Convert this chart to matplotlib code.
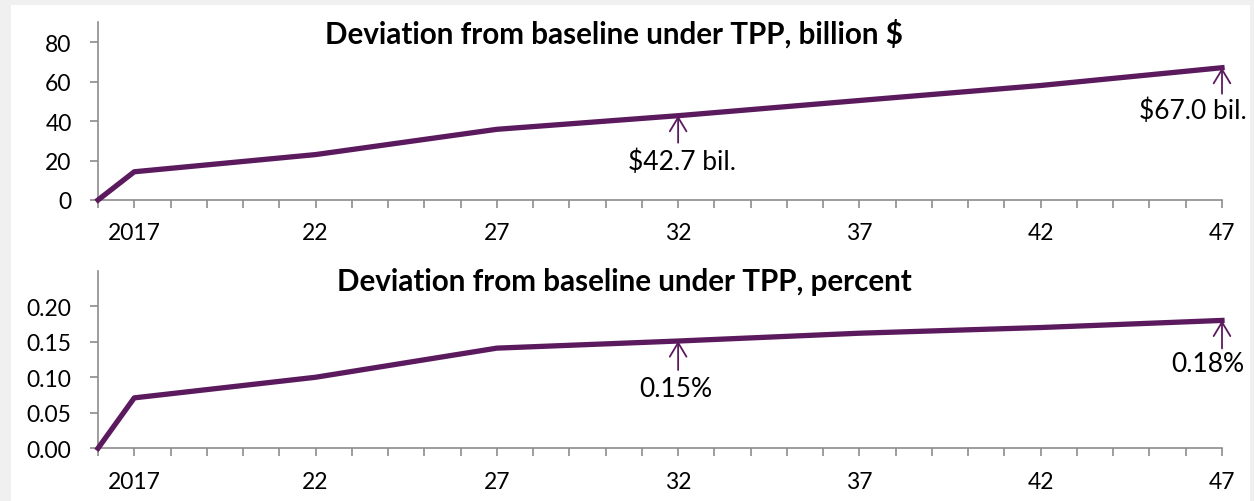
import matplotlib
matplotlib.use("Agg")
import matplotlib.pyplot as plt
from matplotlib.patches import Rectangle

plt.rcParams['font.family'] = ['Lato', 'DejaVu Sans']

# data
years = [2016, 2017, 2022, 2027, 2032, 2037, 2042, 2047]
bil_usd = [0, 14.3, 23.0, 35.8, 42.7, 50.4, 58.0, 67.0]
pct = [0, 0.071, 0.100, 0.141, 0.151, 0.162, 0.170, 0.180]

tick_years = list(range(2016, 2048))
tick_labels = []
for y in tick_years:
    if y == 2017:
        tick_labels.append("2017")
    elif (y - 2017) % 5 == 0:
        tick_labels.append(str(y)[2:])
    else:
        tick_labels.append("")

purple = "#5c1a5e"
grey = "#8c8c8c"

fig = plt.figure(figsize=(12.54, 5.02), dpi=100)
fig.patch.set_facecolor("#f0f0f0")
fig.patches.append(Rectangle((11/1254, 0), 1239/1254, 496/502, transform=fig.transFigure,
                             facecolor="white", edgecolor="none", zorder=-10))

ax1 = fig.add_axes([98/1254, 1-201/502, 1124/1254, 177.7/502])
ax2 = fig.add_axes([98/1254, 1-449.3/502, 1124/1254, 177.6/502])

def style(ax, ylim, yticks, yfmt):
    ax.set_facecolor("none")
    ax.set_xlim(2016, 2047)
    ax.set_ylim(*ylim)
    ax.set_xticks(tick_years)
    ax.set_xticklabels(tick_labels)
    ax.set_yticks(yticks)
    ax.set_yticklabels([yfmt.format(v) for v in yticks])
    for s in ["top", "right"]:
        ax.spines[s].set_visible(False)
    for s in ["left", "bottom"]:
        ax.spines[s].set_color(grey)
        ax.spines[s].set_linewidth(1.2)
    ax.tick_params(axis="x", direction="out", length=6, width=1.2, color=grey,
                   labelsize=16.5, pad=10)
    ax.tick_params(axis="y", direction="out", length=6, width=1.2, color=grey,
                   labelsize=16.5, pad=13)

style(ax1, (0, 90), [0, 20, 40, 60, 80], "{:.0f}")
style(ax2, (0, 0.25), [0, 0.05, 0.10, 0.15, 0.20], "{:.2f}")

ax1.plot(years, bil_usd, color=purple, lw=3.8, clip_on=False, zorder=3)
ax2.plot(years, pct, color=purple, lw=3.8, clip_on=False, zorder=3)

fig.text(614/1254, 1-34/502, "Deviation from baseline under TPP, billion $",
         ha="center", va="center", fontsize=21.3, fontweight="bold")
fig.text(624/1254, 1-282/502, "Deviation from baseline under TPP, percent",
         ha="center", va="center", fontsize=21.3, fontweight="bold")

arrow = dict(arrowstyle="->,head_length=0.5,head_width=0.3", color=purple, lw=1.3,
             shrinkA=0, shrinkB=0, mutation_scale=20)

def note(ax, x, y, txt, tail, dx, dy):
    ax.annotate("", xy=(x, y), xytext=(0, -tail), textcoords="offset pixels",
                xycoords="data", arrowprops=arrow, annotation_clip=False)
    ax.annotate(txt, xy=(x, y), xytext=(dx, -dy), textcoords="offset pixels",
                ha="center", va="center", fontsize=19, annotation_clip=False)

note(ax1, years[4], bil_usd[4], "$42.7 bil.", 27, 4, 46)
note(ax1, years[7], bil_usd[7], "$67.0 bil.", 26, -29, 43)
note(ax2, years[4], pct[4], "0.15%", 29, -2, 47)
note(ax2, years[7], pct[7], "0.18%", 28, -14, 43)

fig.savefig("out.png", dpi=100, facecolor=fig.get_facecolor())
